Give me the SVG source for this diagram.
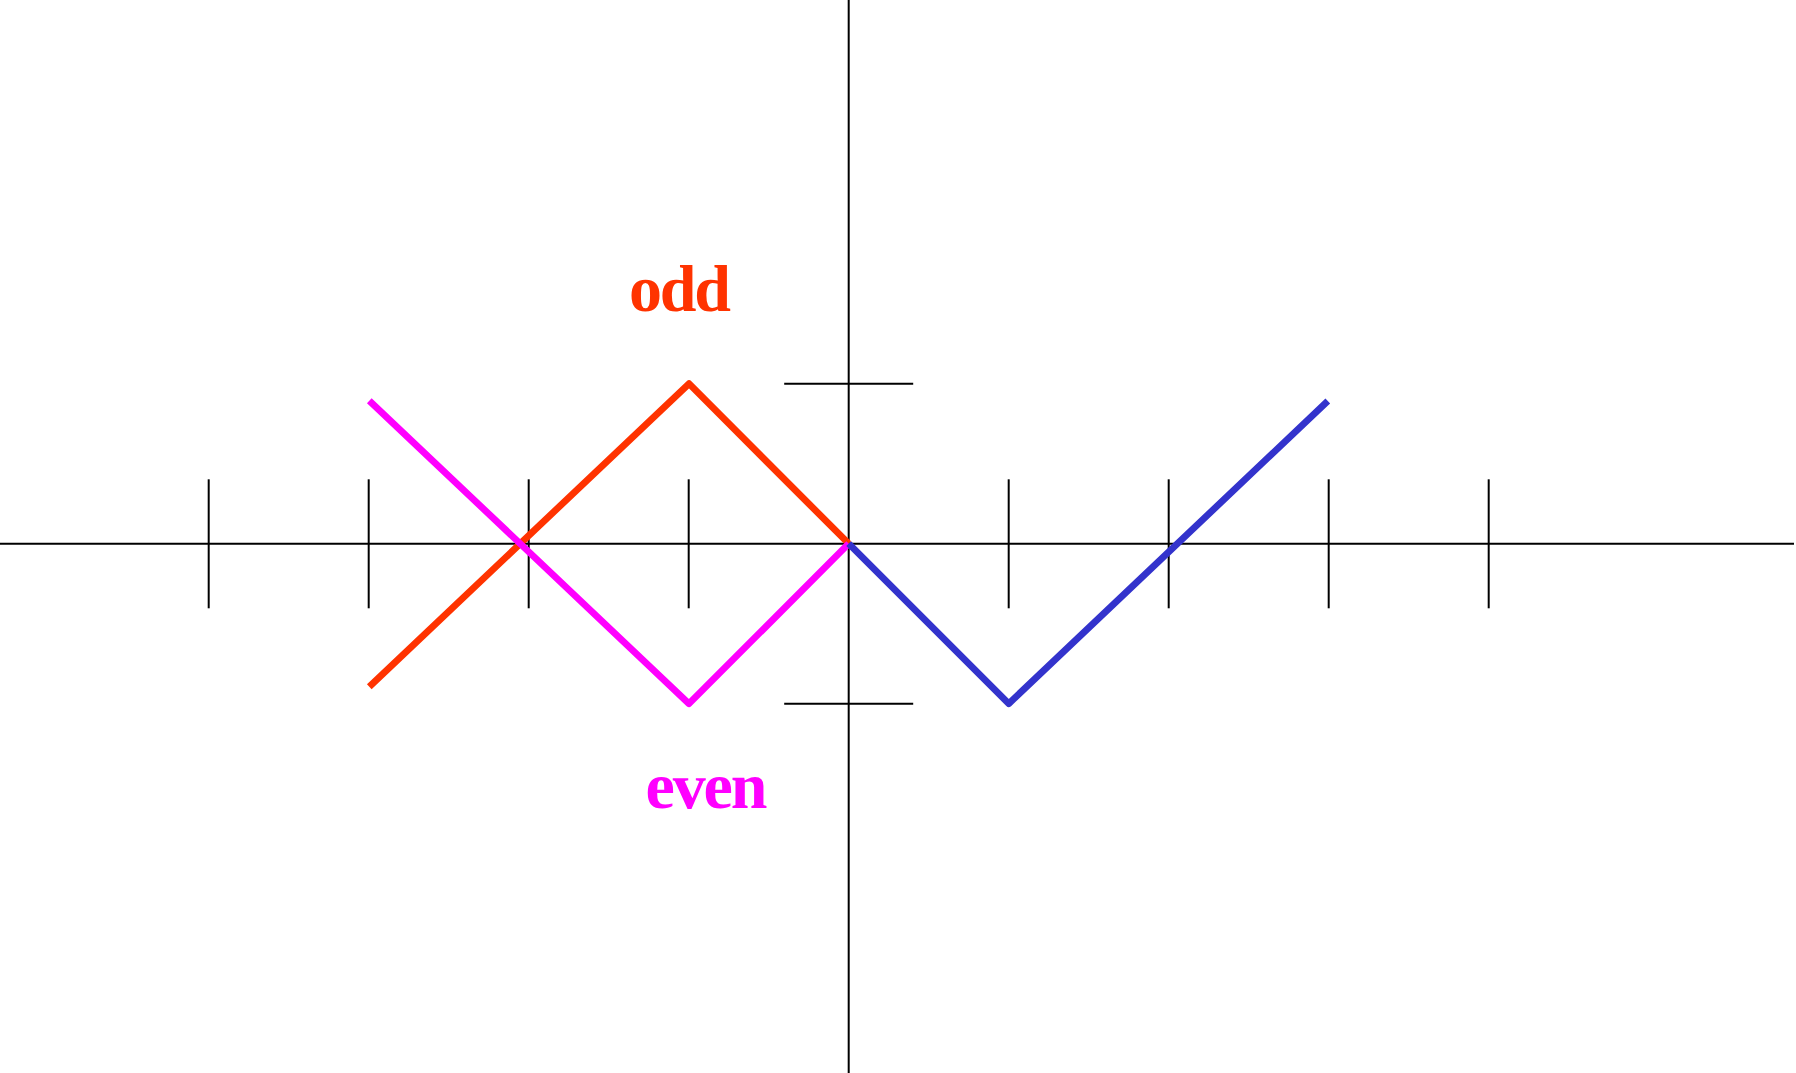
<svg xmlns="http://www.w3.org/2000/svg" width="1796" height="1073" viewBox="0 0 1796 1073">
  <style>
    .ax { stroke: #000; stroke-width: 2; fill: none; }
    .curve { fill: none; stroke-width: 6.8; stroke-linejoin: round; stroke-linecap: butt; }
    .lbl { font-family: "Liberation Serif", "Times New Roman", serif; font-weight: bold; font-size: 66px; }
  </style>
  <rect width="1796" height="1073" fill="#fff"/>
  <g id="axes">
    <line class="ax" x1="0" y1="543.7" x2="1794" y2="543.7"/>
    <line class="ax" x1="848.7" y1="0" x2="848.7" y2="1073"/>
    <g id="xticks">
      <line class="ax" x1="208.7" y1="479.3" x2="208.7" y2="608.3"/>
      <line class="ax" x1="368.7" y1="479.3" x2="368.7" y2="608.3"/>
      <line class="ax" x1="528.7" y1="479.3" x2="528.7" y2="608.3"/>
      <line class="ax" x1="688.7" y1="479.3" x2="688.7" y2="608.3"/>
      <line class="ax" x1="1008.7" y1="479.3" x2="1008.7" y2="608.3"/>
      <line class="ax" x1="1168.7" y1="479.3" x2="1168.7" y2="608.3"/>
      <line class="ax" x1="1328.7" y1="479.3" x2="1328.7" y2="608.3"/>
      <line class="ax" x1="1488.7" y1="479.3" x2="1488.7" y2="608.3"/>
    </g>
    <g id="yticks">
      <line class="ax" x1="784.2" y1="383.7" x2="913.2" y2="383.7"/>
      <line class="ax" x1="784.2" y1="703.7" x2="913.2" y2="703.7"/>
    </g>
  </g>
  <g id="connectors">
    <polyline id="odd-curve" class="curve" stroke="#FF3300" points="369.3,686.7 689,383.7 848.7,543.7"/>
    <polyline id="even-curve" class="curve" stroke="#FF00FF" points="369.3,400.7 689,703.7 848.7,543.7"/>
    <polyline id="blue-curve" class="curve" stroke="#3333CC" points="848.7,543.7 1008.7,703.7 1327.8,401"/>
  </g>
  <g id="label-odd">
    <text class="lbl" x="629" y="311" fill="#FF3300" textLength="102" lengthAdjust="spacing">odd</text>
  </g>
  <g id="label-even">
    <text class="lbl" x="645.5" y="808" fill="#FF00FF" textLength="122" lengthAdjust="spacing">even</text>
  </g>
</svg>
